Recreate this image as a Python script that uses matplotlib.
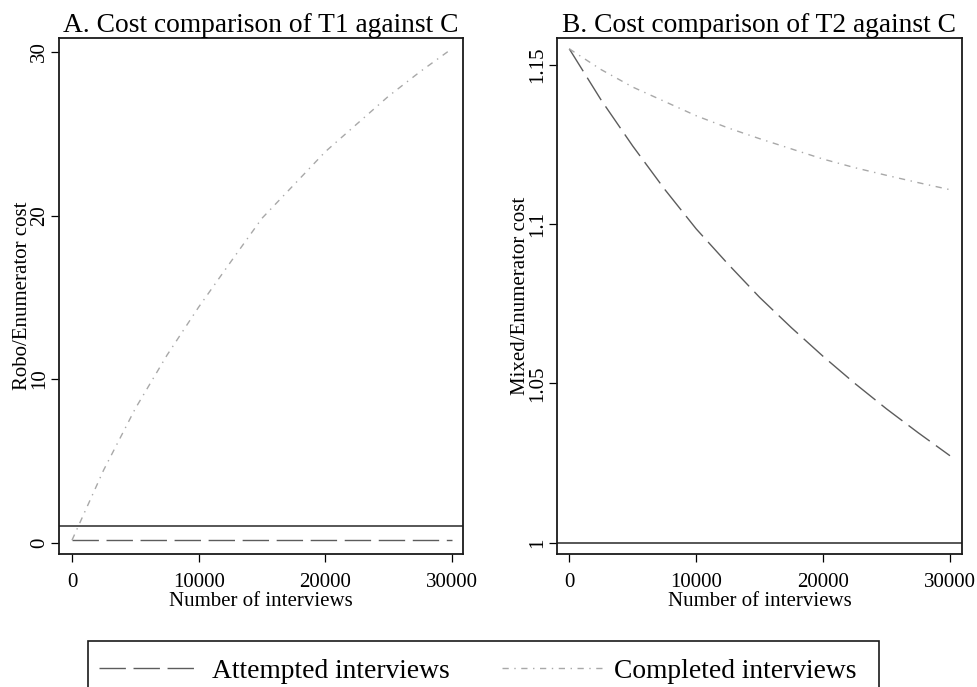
import matplotlib
matplotlib.use('Agg')
import matplotlib.pyplot as plt
from matplotlib.patches import Rectangle

plt.rcParams['font.family'] = ['Liberation Serif', 'DejaVu Serif']

# number of interviews (x axis, both panels)
interviews = [0, 2500, 5000, 7500, 10000, 12500, 15000,
              17500, 20000, 22500, 25000, 27500, 30000]

# A: robo / enumerator cost
robo_attempted = [0.15, 0.15, 0.15, 0.15, 0.15, 0.15, 0.15,
                  0.15, 0.15, 0.15, 0.15, 0.15, 0.15]
robo_completed = [0.15, 4.44, 8.20, 11.46, 14.4, 17.13, 19.83,
                  21.86, 23.9, 25.6, 27.3, 28.8, 30.2]

# B: mixed / enumerator cost
mixed_attempted = [1.155, 1.139, 1.1245, 1.111, 1.0985, 1.0875, 1.077,
                   1.0675, 1.0585, 1.050, 1.042, 1.0345, 1.0273]
mixed_completed = [1.155, 1.1485, 1.143, 1.1385, 1.134, 1.1302, 1.1268,
                   1.1236, 1.1204, 1.1177, 1.1153, 1.1130, 1.1108]

titles = ['A. Cost comparison of T1 against C', 'B. Cost comparison of T2 against C']
ylabels = ['Robo/Enumerator cost', 'Mixed/Enumerator cost']
yticks = [[0, 10, 20, 30], [1, 1.05, 1.1, 1.15]]
yticklabels = [['0', '10', '20', '30'], ['1', '1.05', '1.1', '1.15']]
xticks = [0, 10000, 20000, 30000]

ATT_COLOR = '#5c5c5c'
COMP_COLOR = '#a8a8a8'
ATT_DASH = (0, (19, 5.5))
COMP_DASH = (0, (4.5, 4, 1, 4))

fig = plt.figure(figsize=(9.78, 6.87), dpi=100)
ax_a = fig.add_axes([0.0603, 0.1936, 0.4131, 0.7511])
ax_b = fig.add_axes([0.5695, 0.1936, 0.4141, 0.7511])

panels = [(ax_a, robo_attempted, robo_completed, (-1026, 30868), (-0.69, 30.85)),
          (ax_b, mixed_attempted, mixed_completed, (-969, 30945), (0.99646, 1.1584))]

for i, (ax, att, comp, xl, yl) in enumerate(panels):
    ax.axhline(1, color='#3a3a3a', lw=1.2, zorder=1)
    l1, = ax.plot(interviews, att, color=ATT_COLOR, lw=1.0, linestyle=ATT_DASH)
    l2, = ax.plot(interviews, comp, color=COMP_COLOR, lw=1.0, linestyle=COMP_DASH)
    ax.set_xlim(*xl)
    ax.set_ylim(*yl)
    ax.set_xticks(xticks)
    ax.set_xticklabels([str(t) for t in xticks])
    ax.set_yticks(yticks[i])
    ax.set_yticklabels(yticklabels[i], rotation=90, va='center')
    ax.tick_params(axis='both', direction='out', length=6, width=0.9, labelsize=15)
    ax.tick_params(axis='x', pad=8)
    ax.tick_params(axis='y', pad=1)
    for sp in ax.spines.values():
        sp.set_linewidth(1.3)
        sp.set_color('#1a1a1a')
    ax.set_xlabel('Number of interviews', fontsize=15, labelpad=0)
    ax.set_ylabel(ylabels[i], fontsize=15, labelpad=-1)
    ax.set_title(titles[i], fontsize=19.8, pad=4)

# legend box runs past the bottom edge of the figure
fig.patches.append(Rectangle((88 / 978, -0.05), (879 - 88) / 978, 1 - 641 / 687 + 0.05,
                             transform=fig.transFigure, fill=False,
                             edgecolor='#1a1a1a', linewidth=1.2))
leg = fig.legend([l1, l2], ['Attempted interviews', 'Completed interviews'],
                 loc='center left', bbox_to_anchor=(99 / 978, 1 - 671 / 687),
                 ncol=2, fontsize=19.8, frameon=False,
                 handlelength=3.65, handletextpad=0.45, columnspacing=1.9,
                 borderpad=0, borderaxespad=0)

fig.savefig('out.png', dpi=100)
